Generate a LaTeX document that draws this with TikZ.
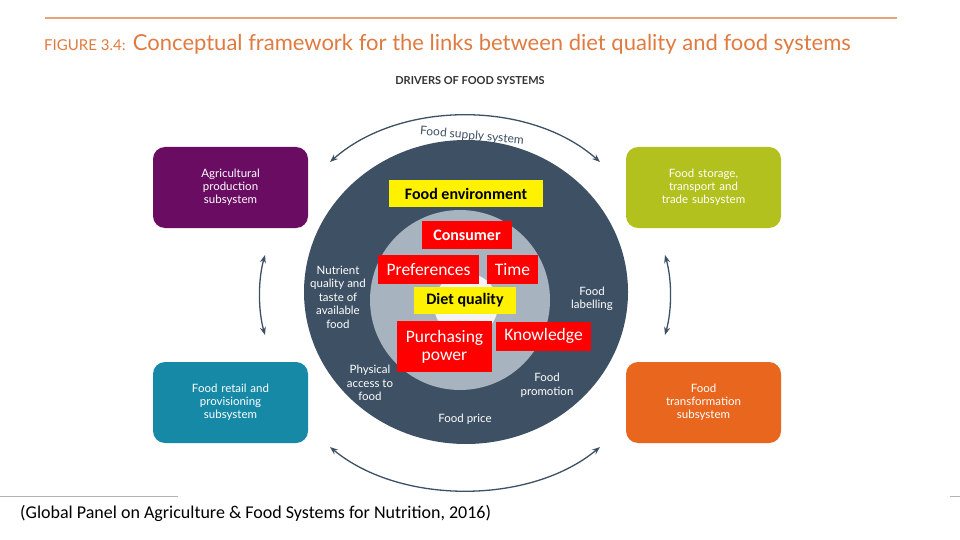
\documentclass[tikz,border=0pt]{standalone}
\usepackage{fontspec}
\setmainfont{Carlito}
\newfontfamily\lato{Lato}
\usetikzlibrary{arrows.meta}
\definecolor{navy}{HTML}{3E5164}
\definecolor{lgray}{HTML}{A7B4C0}
\definecolor{orng}{HTML}{E07B40}
\definecolor{cpurple}{HTML}{6A0C62}
\definecolor{cgreen}{HTML}{B3C11E}
\definecolor{cteal}{HTML}{1689A6}
\definecolor{corange}{HTML}{E8661E}
\begin{document}
\begin{tikzpicture}[x=1pt,y=-1pt,
  redbox/.style={fill=red,text=white,font=\fontsize{17.5}{19}\selectfont,inner sep=0pt},
  yelbox/.style={fill=yellow,text=black,font=\bfseries\fontsize{16}{18}\selectfont,inner sep=0pt},
  sub/.style={rounded corners=12pt,minimum width=155pt,minimum height=81pt,text=white,font=\lato\fontsize{11.5}{13}\selectfont,align=center,text width=95pt},
  lab/.style={text=white,font=\lato\fontsize{11.5}{13.5}\selectfont,align=center},
  arr/.style={navy,line width=1.3pt,{Stealth[length=8pt]}-{Stealth[length=8pt]}}]
\useasboundingbox (0,0) rectangle (960,540);
\fill[white] (0,0) rectangle (960,540);
\draw[orng!70,line width=1.2pt] (45,18) -- (897,18);
\node[anchor=west,text=orng,font=\lato\fontsize{22}{24}\selectfont,inner sep=0pt] (title) at (44,44) {{\fontsize{15}{16}\selectfont FIGURE 3.4:} Conceptual framework for the links between diet quality and food systems};
\node[font=\lato\bfseries\fontsize{11}{12}\selectfont,text=black!80] (drv) at (470,81) {DRIVERS OF FOOD SYSTEMS};
% circles
\fill[navy] (466,292) ellipse (162 and 152);
\fill[lgray] (460,300) circle (90);
\fill[white!85!lgray] (466,305) circle (32);
% subsystem boxes
\node[sub,fill=cpurple] (agr) at (230.5,187.5) {Agricultural\\production\\subsystem};
\node[sub,fill=cgreen] (sto) at (703.5,187.5) {Food storage,\\transport and\\trade subsystem};
\node[sub,fill=cteal] (ret) at (230.5,402.5) {Food retail and\\provisioning\\subsystem};
\node[sub,fill=corange] (tra) at (703.5,402.5) {Food\\transformation\\subsystem};
% arrows
\coordinate (ta) at (330,162); \coordinate (tb) at (600,162);
\draw[arr] (ta) .. controls (400,100) and (530,100) .. (tb);
\node[navy,font=\lato\fontsize{12}{13}\selectfont,rotate=-5] (fss) at (472,136) {Food supply system};
\coordinate (ba) at (330,447); \coordinate (bb) at (600,447);
\draw[arr] (ba) .. controls (400,505) and (530,505) .. (bb);
\coordinate (la) at (265,255); \coordinate (lb) at (265,335);
\draw[arr] (la) .. controls (258,280) and (258,310) .. (lb);
\coordinate (ra) at (665,255); \coordinate (rb) at (665,335);
\draw[arr] (ra) .. controls (672,280) and (672,310) .. (rb);
% ring labels
\node[lab] (nut) at (338,297) {Nutrient\\quality and\\taste of\\available\\food};
\node[lab] (lbl) at (592,299) {Food\\labelling};
\node[lab] (phy) at (370,383) {Physical\\access to\\food};
\node[lab] (pro) at (547,385) {Food\\promotion};
\node[lab] (pri) at (465,419) {Food price};
% overlay boxes
\node[yelbox,minimum width=154pt,minimum height=27pt] (fe) at (466,193.5) {Food environment};
\node[redbox,font=\bfseries\fontsize{16}{18}\selectfont,minimum width=90pt,minimum height=28pt] (con) at (467,235) {Consumer};
\node[redbox,minimum width=101pt,minimum height=29pt] (pref) at (428.5,269.5) {Preferences};
\node[redbox,minimum width=51pt,minimum height=29pt] (time) at (512.5,269.5) {Time};
\node[yelbox,minimum width=102pt,minimum height=27pt] (dq) at (465,300.5) {Diet quality};
\node[redbox,align=center,text width=95pt,minimum height=51pt] (pp) at (444.5,346.5) {Purchasing\\[-1pt]power};
\node[redbox,minimum width=95pt,minimum height=29pt] (kn) at (543.5,336) {Knowledge};
% footer
\draw[black!30] (0,496) -- (178,496);
\draw[black!30] (950,496) -- (960,496);
\node[anchor=west,font=\fontsize{18}{20}\selectfont,inner sep=0pt] (src) at (20,513) {(Global Panel on Agriculture \& Food Systems for Nutrition, 2016)};
\end{tikzpicture}
\end{document}
